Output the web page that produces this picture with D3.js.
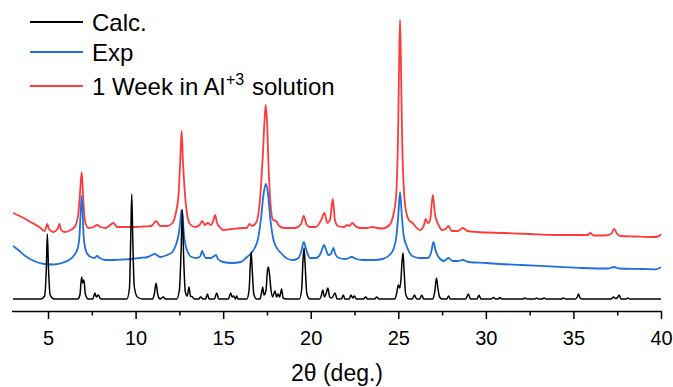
<!DOCTYPE html>
<html><head><meta charset="utf-8">
<script src="https://cdn.jsdelivr.net/npm/d3@7"></script>
<style>
html,body{margin:0;padding:0;background:#fff;}
svg{display:block;font-family:"Liberation Sans",Arial,sans-serif;}
</style></head>
<body><svg id="chart" width="673" height="387"></svg>
<script>
// ---- data: [2theta (deg), intensity (a.u., stacked offset)] ----
const seriesNames = ["Calc.", "Exp", "1 Week in Al+3 solution"];
const seriesColors = ["#000000", "#1f6fdc", "#ff3a3a"];
const xTicks = [5, 10, 15, 20, 25, 30, 35, 40];
const xMinorTicks = [7.5, 12.5, 17.5, 22.5, 27.5, 32.5, 37.5];

const calc = [
[3.0,1],[4.6,1],[4.8,4],[4.9,30],[4.96,66],[5.03,30],[5.12,5],[5.35,1],
[6.7,1],[6.82,5],[6.92,23],[6.98,17],[7.05,20],[7.13,6],[7.3,1],
[7.55,1],[7.68,7],[7.76,3],[7.88,5],[8.0,1],
[9.5,1],[9.65,12],[9.72,60],[9.78,106],[9.84,60],[9.92,14],[10.1,3],[10.4,1],
[10.95,1],[11.07,6],[11.17,17],[11.27,5],[11.4,1],[11.58,3],[11.7,1],
[12.35,1],[12.5,10],[12.6,50],[12.67,90],[12.74,45],[12.84,8],[12.95,4],[13.05,13],[13.13,4],[13.25,3],[13.35,1],
[13.6,1],[13.72,3],[13.85,1],[14.0,1],[14.1,6],[14.2,1],[14.5,1],[14.63,7],[14.75,1],
[15.3,1],[15.43,7],[15.52,3],[15.6,4],[15.7,1],[15.77,4],[15.85,1],
[16.35,1],[16.48,10],[16.55,35],[16.6,48],[16.66,30],[16.75,6],[16.9,1],
[17.1,1],[17.2,8],[17.26,13],[17.33,5],[17.45,10],[17.52,28],[17.58,33],[17.65,25],[17.72,12],[17.82,3],[17.96,9],[18.05,3],[18.14,6],[18.22,3],[18.34,11],[18.42,2],[18.6,1],
[19.35,1],[19.48,10],[19.56,40],[19.62,52],[19.68,35],[19.78,6],[19.95,1],
[20.5,1],[20.6,4],[20.69,10],[20.78,3],[20.87,6],[20.98,12],[21.08,3],[21.2,2],[21.39,7],[21.5,1],[21.75,1],[21.86,5],[21.95,1],[22.2,1],[22.3,5],[22.4,2],[22.5,4],[22.6,1],
[23.0,1],[23.14,3],[23.25,1],[23.65,1],[23.77,3],[23.9,1],
[24.8,1],[24.92,8],[25.0,15],[25.08,12],[25.15,20],[25.22,40],[25.27,47],[25.33,30],[25.42,6],[25.6,1],
[25.8,1],[25.92,5],[26.05,1],[26.22,1],[26.34,5],[26.45,1],
[26.95,1],[27.08,8],[27.18,22],[27.26,12],[27.36,3],[27.5,1],
[27.77,1],[27.87,4],[27.97,1],[28.85,1],[29.0,6],[29.12,1],[29.5,1],[29.61,5],[29.72,1],
[30.3,1],[30.43,2.5],[30.55,1],[30.7,1],[30.8,2.5],[30.9,1],[32.1,1],[32.24,2],[32.35,1],[32.8,1],[32.9,2],[33.0,1],[33.2,1],[33.33,2],[33.45,1],
[34.3,1],[34.43,2],[34.55,1],[35.1,1],[35.22,3],[35.29,6],[35.38,2],[35.5,1],
[37.15,1],[37.29,3],[37.4,1.5],[37.5,2],[37.61,5],[37.72,1],[38.0,1],[38.1,2],[38.2,1],[40,1]
];

const exp = [
[3.0,54],[3.3,50],[3.7,44],[4.2,39],[4.8,36],[5.3,35.5],[5.8,37],[6.2,40],[6.5,45],[6.7,52],[6.8,65],[6.87,90],[6.92,104],[6.97,90],[7.03,65],[7.12,52],[7.25,46],[7.45,43],[7.65,42],[7.8,44],[7.95,42],[8.3,40],[8.8,40],[9.3,40.5],[9.75,41],[10.2,42],[10.7,43],[11.1,46],[11.4,43],[11.8,45],[12.1,48],[12.3,55],[12.45,65],[12.55,78],[12.62,90],[12.68,85],[12.75,68],[12.85,55],[13.0,47],[13.2,43],[13.5,42],[13.7,44],[13.8,49],[13.88,46],[14.0,42],[14.3,42],[14.5,44],[14.59,45],[14.7,41],[15.0,38],[15.5,37],[16.0,38],[16.3,42],[16.55,46],[16.8,52],[17.0,62],[17.15,80],[17.3,105],[17.43,116],[17.55,108],[17.7,80],[17.85,62],[18.0,54],[18.3,47],[18.7,41],[19.0,40],[19.3,42],[19.45,48],[19.6,58],[19.75,50],[19.95,42],[20.3,42],[20.55,46],[20.7,53],[20.78,55],[20.88,50],[21.0,45],[21.15,46],[21.29,52],[21.4,46],[21.6,42],[22.0,41],[22.34,43],[22.6,41],[23.0,40],[23.6,40],[24.1,41],[24.5,45],[24.75,52],[24.9,65],[25.0,85],[25.1,108],[25.2,85],[25.3,65],[25.5,53],[25.8,44],[26.2,42],[26.7,42],[26.88,48],[27.01,58],[27.12,50],[27.3,43],[27.6,39],[27.87,42],[28.1,39],[28.4,39],[28.68,40],[29.0,38],[30.0,37],[30.8,36],[32.0,35],[33.95,33.3],[35.5,32],[37.0,31.5],[37.3,33],[37.6,31.5],[39.0,31],[39.7,30.7],[40.0,32.7]
];

const week = [
[3.0,87],[3.5,83],[4.0,78],[4.5,73],[4.8,69],[4.88,72],[4.96,76],[5.05,71],[5.3,68],[5.55,71],[5.65,76],[5.75,70],[5.95,68],[6.3,70],[6.55,74],[6.72,85],[6.82,105],[6.92,128],[7.0,105],[7.1,80],[7.3,72],[7.6,73],[7.8,75],[8.0,73],[8.3,72],[8.73,77],[8.95,73],[9.5,73],[10.0,73],[10.5,73.5],[10.9,74],[11.17,79],[11.4,74],[11.8,74],[12.1,77],[12.3,87],[12.45,105],[12.55,140],[12.63,169],[12.7,140],[12.8,110],[12.95,85],[13.1,76],[13.4,73],[13.65,75],[13.81,79],[13.95,75],[14.12,77],[14.3,75],[14.45,80],[14.54,85],[14.65,77],[14.85,72],[15.0,70],[15.5,71],[16.12,72],[16.35,72],[16.5,76],[16.65,74],[16.9,78],[17.1,100],[17.25,140],[17.38,185],[17.43,195],[17.5,180],[17.6,130],[17.7,97],[17.85,80],[18.02,79],[18.2,74],[18.5,72],[19.1,72],[19.45,76],[19.6,84],[19.75,76],[19.95,73],[20.3,73],[20.6,80],[20.78,87],[20.95,77],[21.1,80],[21.26,101],[21.38,80],[21.55,74],[21.9,73],[22.09,75],[22.2,74],[22.38,77],[22.55,74],[22.8,72],[23.2,72],[23.54,73],[23.8,72],[24.1,71.5],[24.5,75],[24.75,88],[24.88,105],[24.98,160],[25.05,240],[25.1,280],[25.15,240],[25.22,160],[25.32,110],[25.45,88],[25.6,80],[25.83,77],[26.0,73],[26.25,70],[26.45,74],[26.57,81],[26.7,77],[26.82,80],[26.97,105],[27.1,85],[27.3,75],[27.5,70],[27.7,71],[27.86,74],[28.05,69],[28.4,69],[28.68,72],[28.95,69],[29.5,68],[31.0,67],[32.5,66],[33.9,65],[35.0,65],[35.8,65],[35.98,67],[36.15,64.5],[36.8,64.5],[37.15,66],[37.32,71],[37.5,66],[37.7,64],[38.5,63.5],[39.5,63],[39.85,63.5],[40.0,66]
];

const seriesData = [calc, exp, week];

// ---- layout ----
const svg = d3.select("#chart");
const x = d3.scaleLinear().domain([3, 40]).range([13, 661]);
const y = d3.scaleLinear().domain([-11, 300]).range([311, 0]);

const line = d3.line().x(d => x(d[0])).y(d => y(d[1])).curve(d3.curveMonotoneX);

// draw red (bottom), blue, black (top)
[2, 1, 0].forEach(i => {
  svg.append("path")
    .datum(seriesData[i])
    .attr("fill", "none")
    .attr("stroke", seriesColors[i])
    .attr("stroke-width", i === 0 ? 1.5 : 1.8)
    .attr("stroke-linejoin", "round")
    .attr("d", line);
});

// x axis
const axisY = y(-11);
const gx = svg.append("g").attr("transform", `translate(0,${axisY})`);
gx.call(d3.axisBottom(x).tickValues(xTicks).tickSize(8).tickPadding(12).tickSizeOuter(0));
gx.select(".domain").attr("stroke", "#000").attr("stroke-width", 1.5).attr("d", `M${x(3)-1},0.5H${x(40)}`);
gx.selectAll(".tick line").attr("stroke", "#000").attr("stroke-width", 1.5);
gx.selectAll(".tick text").attr("font-size", 20).attr("font-family", "Liberation Sans, Arial, sans-serif").attr("fill", "#000");
const gm = svg.append("g").attr("transform", `translate(0,${axisY})`);
gm.call(d3.axisBottom(x).tickValues(xMinorTicks).tickSize(4.5).tickFormat("").tickSizeOuter(0));
gm.select(".domain").remove();
gm.selectAll(".tick line").attr("stroke", "#000").attr("stroke-width", 1.5);

// axis title
svg.append("text").attr("x", 337).attr("y", 381).attr("text-anchor", "middle")
  .attr("font-size", 23).attr("fill", "#000").text("2θ (deg.)");

// legend
const legY = [22, 52, 86];
const legBase = [30.5, 61, 95];
seriesNames.forEach((name, i) => {
  svg.append("line").attr("x1", 30).attr("x2", 83).attr("y1", legY[i]).attr("y2", legY[i])
    .attr("stroke", seriesColors[i]).attr("stroke-width", 2);
  const t = svg.append("text").attr("x", 92).attr("y", legBase[i]).attr("font-size", 24).attr("fill", "#000");
  if (name.includes("Al+3")) {
    const parts = name.split("+3");
    t.append("tspan").text(parts[0]);
    t.append("tspan").attr("font-size", 16).attr("dy", -10).attr("dx", 1).text("+3");
    t.append("tspan").attr("dy", 10).attr("dx", 1).text(parts[1]);
  } else {
    t.text(name);
  }
});
</script></body></html>
